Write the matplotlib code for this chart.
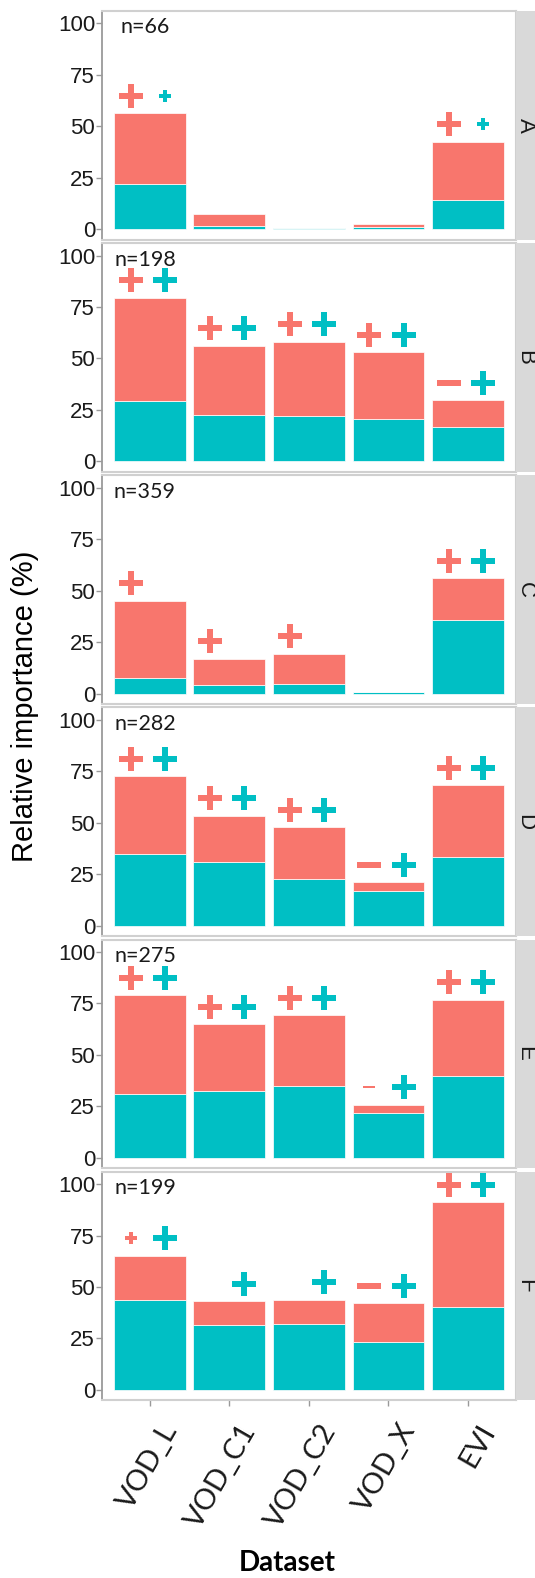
import matplotlib
matplotlib.use("Agg")
import matplotlib.pyplot as plt
from matplotlib.path import Path
from matplotlib.patches import Rectangle
from matplotlib.transforms import ScaledTranslation

datasets = ["VOD_L", "VOD_C1", "VOD_C2", "VOD_X", "EVI"]
panels = ["A", "B", "C", "D", "E", "F"]
n_obs = [66, 198, 359, 282, 275, 199]

# teal = lower part of each bar, salmon = part stacked on top
teal_part = [
    [21.8, 1.8, 0.6, 1.0, 14.2],
    [29.5, 22.6, 21.9, 20.5, 16.6],
    [7.6, 3.9, 4.4, 0.6, 35.7],
    [34.9, 30.7, 22.5, 16.8, 33.3],
    [31.1, 32.4, 34.7, 21.8, 39.7],
    [43.7, 31.6, 31.8, 23.4, 40.5],
]
salmon_part = [
    [34.5, 5.5, 0.0, 1.3, 28.4],
    [49.9, 33.5, 36.3, 32.4, 13.1],
    [37.5, 13.1, 14.9, 0.0, 20.4],
    [37.6, 22.6, 25.2, 4.4, 34.9],
    [47.8, 32.4, 34.5, 4.0, 37.1],
    [21.6, 11.5, 12.1, 18.7, 50.8],
]

# sign of the effect: +2 / -2 strong, +1 / -1 weak, 0 none
salmon_sign = [
    [2, 0, 0, 0, 2],
    [2, 2, 2, 2, -2],
    [2, 2, 2, 0, 2],
    [2, 2, 2, -2, 2],
    [2, 2, 2, -1, 2],
    [1, 0, 0, -2, 2],
]
teal_sign = [
    [1, 0, 0, 0, 1],
    [2, 2, 2, 2, 2],
    [0, 0, 0, 0, 2],
    [2, 2, 2, 2, 2],
    [2, 2, 2, 2, 2],
    [2, 2, 2, 2, 2],
]

SALMON = "#F8766D"
TEAL = "#00BFC4"
W, H = 535, 1578

# plus and minus markers
t = 0.13
plus_path = Path([(-t, -0.5), (t, -0.5), (t, -t), (0.5, -t), (0.5, t), (t, t),
                  (t, 0.5), (-t, 0.5), (-t, t), (-0.5, t), (-0.5, -t), (-t, -t),
                  (-t, -0.5)], closed=True)
minus_path = Path([(-0.5, -0.11), (0.5, -0.11), (0.5, 0.11), (-0.5, 0.11),
                   (-0.5, -0.11)], closed=True)


def draw_sign(ax, x, y, s, color):
    if s == 0:
        return
    marker = plus_path if s > 0 else minus_path
    size_px = 24 if abs(s) == 2 else 12
    ax.plot(x, y, marker=marker, ms=size_px * 0.72, color=color, mew=0,
            linestyle="none", zorder=4)


fig = plt.figure(figsize=(W / 100, H / 100), dpi=100)

left_px, right_px = 102, 515.7
x = list(range(1, len(datasets) + 1))

for i, p in enumerate(panels):
    top_px = 11 + 232.15 * i
    h_px = 228.5
    ax = fig.add_axes([left_px / W, 1 - (top_px + h_px) / H,
                       (right_px - left_px) / W, h_px / H])
    teal = teal_part[i]
    salmon = salmon_part[i]
    ax.bar(x, teal, width=0.9, color=TEAL, edgecolor="white", linewidth=0.5)
    ax.bar(x, salmon, width=0.9, bottom=teal, color=SALMON,
           edgecolor="white", linewidth=0.5)

    for j in range(len(datasets)):
        total = teal[j] + salmon[j]
        draw_sign(ax, x[j] - 0.24, total + 8.5, salmon_sign[i][j], SALMON)
        draw_sign(ax, x[j] + 0.19, total + 8.5, teal_sign[i][j], TEAL)

    ax.text(0.94, 98, f"n={n_obs[i]}", ha="center", va="center",
            fontsize=15.5, family="Lato", color="#1a1a1a")

    ax.set_xlim(0.4, 5.6)
    ax.set_ylim(-5, 106)
    ax.set_yticks([0, 25, 50, 75, 100])
    ax.set_yticklabels(["0", "25", "50", "75", "100"], family="Liberation Sans",
                       fontsize=16, color="#1a1a1a")
    ax.tick_params(axis="y", length=4, width=1, color="#9a9a9a", pad=1)
    for side in ["top", "right", "bottom"]:
        ax.spines[side].set_color("#d0d0d0")
        ax.spines[side].set_linewidth(1.5)
    ax.spines["left"].set_color("#9a9a9a")
    ax.spines["left"].set_linewidth(1.3)

    if i == len(panels) - 1:
        ax.set_xticks(x)
        ax.set_xticklabels(datasets, rotation=60, ha="right", va="top",
                           rotation_mode="anchor", family="Lato", fontsize=21,
                           color="#1a1a1a")
        ax.tick_params(axis="x", length=4, width=1, color="#9a9a9a", pad=4)
        # push the slanted labels a little right and down
        shift = ScaledTranslation(0.10, -0.08, fig.dpi_scale_trans)
        for lab in ax.get_xticklabels():
            lab.set_transform(lab.get_transform() + shift)
    else:
        ax.set_xticks([])

    # facet strip on the right
    fig.patches.append(Rectangle((right_px / W, 1 - (top_px + h_px) / H),
                                 40 / W, h_px / H, transform=fig.transFigure,
                                 facecolor="#d9d9d9", edgecolor="none"))
    fig.text(525 / W, 1 - (top_px + h_px / 2) / H, p, rotation=-90,
             ha="center", va="center", family="Liberation Sans", fontsize=16,
             color="#1a1a1a")

fig.text(25 / W, 1 - 706 / H, "Relative importance (%)", rotation=90,
         ha="center", va="center", family="Liberation Sans", fontsize=21,
         color="black")
fig.text(287 / W, 1 - 1563 / H, "Dataset", ha="center", va="center",
         family="Lato", fontweight="bold", fontsize=20, color="black")

fig.savefig("out.png", dpi=100)
